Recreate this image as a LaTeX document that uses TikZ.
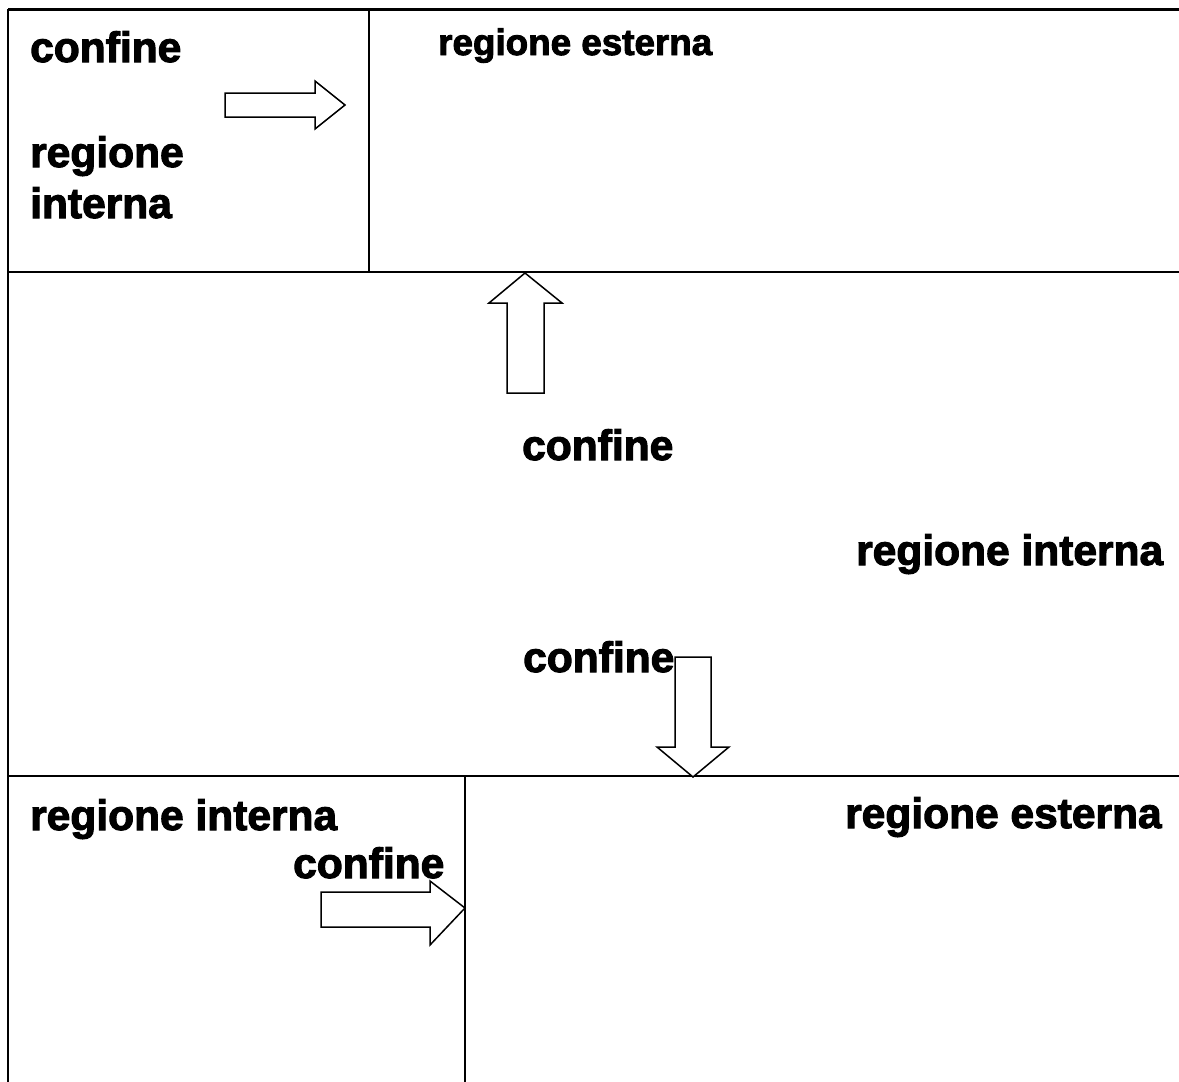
\documentclass[tikz,border=0pt]{standalone}
\usepackage{fontspec}
\setmainfont{Liberation Sans}[BoldFeatures={FakeBold=2.5}]
\begin{document}
\begin{tikzpicture}[x=1pt,y=-1pt,
  frame/.style={line width=2pt,black},
  bigarrow/.style={draw=black,line width=1.5pt,fill=white,line join=miter},
  lbl/.style={anchor=base west,inner sep=0pt,font=\bfseries\fontsize{42.5}{42.5}\selectfont},
  lblsmall/.style={anchor=base west,inner sep=0pt,font=\bfseries\fontsize{36.8}{36.8}\selectfont}]
\useasboundingbox (0,0) rectangle (1179,1082);
% frame lines
\draw[frame,line width=3pt] (8,9) -- (1179,9);
\draw[frame,line width=2.5pt] (8,9) -- (8,1082);
\draw[frame] (369,9) -- (369,272);
\draw[frame] (8,272) -- (1179,272);
\draw[frame] (8,776) -- (1179,776);
\draw[frame] (465,776) -- (465,1082);
% arrows
\draw[bigarrow] (225,93) -- (315,93) -- (315,81) -- (345,105) -- (315,129) -- (315,117) -- (225,117) -- cycle;
\draw[bigarrow] (507,393) -- (507,303) -- (489,303) -- (525,273) -- (562,303) -- (544,303) -- (544,393) -- cycle;
\draw[bigarrow] (675,657) -- (711,657) -- (711,747) -- (729,747) -- (693,777) -- (657,747) -- (675,747) -- cycle;
\draw[bigarrow] (321,892) -- (430,892) -- (430,881) -- (465,908) -- (430,945) -- (430,927) -- (321,927) -- cycle;
% labels
\node[lbl] (c1) at (30,62) {confine};
\node[lbl] (ri1) at (30,167) {regione};
\node[lbl] (ri1b) at (30,218) {interna};
\node[lblsmall] (re1) at (438,55) {regione esterna};
\node[lbl] (c2) at (522,460) {confine};
\node[lbl] (ri2) at (856,565) {regione interna};
\node[lbl] (c3) at (523,672) {confine};
\node[lbl] (ri3) at (30,830) {regione interna};
\node[lbl] (re3) at (845,828) {regione esterna};
\node[lbl] (c4) at (293,878) {confine};
\end{tikzpicture}
\end{document}
